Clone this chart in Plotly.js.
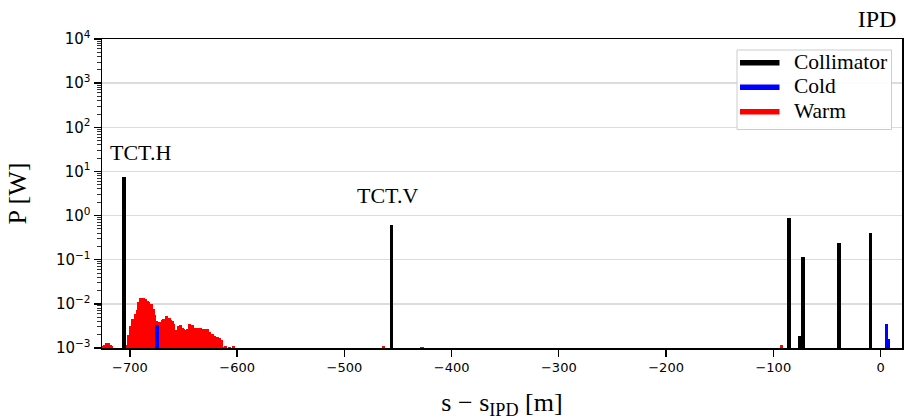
<!DOCTYPE html>
<html>
<head>
<meta charset="utf-8">
<script src="https://cdn.plot.ly/plotly-3.0.1.min.js"></script>
<style>html,body{margin:0;padding:0;background:#fff;}#chart{width:907px;height:420px;}</style>
</head>
<body>
<div id="chart"></div>
<script>
// Collimator losses (s - s_IPD in m, power in W)
const collS = [-705.6, -456.2, -85.1, -75.0, -72.6, -38.8, -9.3];
const collP = [7.5, 0.6, 0.86, 0.0019, 0.116, 0.24, 0.405];

// Cold losses
const coldS = [-674.5, 5.5, 7.3];
const coldP = [0.0033, 0.0035, 0.0016];

// Warm losses
const warmS = [-725.2, -723.5, -722.0, -720.3, -718.5, -716.8,
  -701.8, -700.9, -699.3, -697.2, -694.7, -693.1, -691.6, -690.0, -687.5, -685.4,
  -683.5, -682.3, -680.1, -678.5, -677.6, -676.7, -675.1, -673.0, -671.4, -669.8,
  -668.3, -665.8, -663.6, -662.1, -660.5, -659.0, -657.4, -655.9, -654.3, -652.8,
  -651.2, -649.7, -648.1, -646.6, -644.4, -641.9, -640.3, -638.7, -637.2, -635.7,
  -634.1, -632.5, -631.0, -629.4, -627.9, -625.4, -623.3, -621.1, -618.6, -616.1,
  -614.6, -613.0, -610.8, -607.0, -603.4, -463.3, -427.6, -92.2];
const warmP = [0.0011, 0.0012, 0.0013, 0.0013, 0.0012, 0.0011,
  0.0012, 0.0020, 0.0032, 0.0046, 0.0059, 0.0071, 0.011, 0.0135, 0.0135, 0.0126,
  0.0118, 0.011, 0.010, 0.0077, 0.0055, 0.0042, 0.0040, 0.0038, 0.0039, 0.0042,
  0.0046, 0.0052, 0.0048, 0.0042, 0.0040, 0.0035, 0.0025, 0.0025, 0.0032, 0.0033,
  0.0028, 0.0027, 0.0026, 0.0027, 0.0035, 0.0033, 0.0028, 0.0029, 0.0029, 0.0027,
  0.0028, 0.0027, 0.0027, 0.0027, 0.0027, 0.0023, 0.0021, 0.0019, 0.0018, 0.0017,
  0.0015, 0.00107, 0.0011, 0.00105, 0.0011, 0.0011, 0.00105, 0.0012];

const seriesNames = ['Collimator', 'Cold', 'Warm'];
const seriesColors = ['#000000', '#0000ff', '#ff0000'];
const xTickVals = [-700, -600, -500, -400, -300, -200, -100, 0];
const yTickExp = [-3, -2, -1, 0, 1, 2, 3, 4];
const labels = [{text: 'TCT.H', s: -690, p: 27}, {text: 'TCT.V', s: -460, p: 2.9}];

const serif = 'Liberation Serif';
const sans = 'DejaVu Sans';

// plot area in pixels (for placing the legend box)
const M = {l: 102, r: 5, t: 39, b: 72}, W = 907, H = 420;
const pw = W - M.l - M.r, ph = H - M.t - M.b;
const px = x => (x - M.l) / pw;
const py = y => (H - M.b - y) / ph;

const traces = [
  {type: 'bar', x: warmS, y: warmP, width: 3.0, name: seriesNames[2], marker: {color: seriesColors[2], line: {width: 0}}, showlegend: false, hoverinfo: 'skip'},
  {type: 'bar', x: coldS, y: coldP, width: 3.6, name: seriesNames[1], marker: {color: seriesColors[1], line: {width: 0}}, showlegend: false, hoverinfo: 'skip'},
  {type: 'bar', x: collS, y: collP, width: 3.4, name: seriesNames[0], marker: {color: seriesColors[0], line: {width: 0}}, showlegend: false, hoverinfo: 'skip'}
];

const rowY = [62.7, 87.2, 111.7];
const shapes = [{
  type: 'rect', xref: 'paper', yref: 'paper', layer: 'above',
  x0: px(737), x1: px(891.5), y0: py(129.5), y1: py(50),
  fillcolor: 'rgba(255,255,255,0.9)', line: {color: '#cccccc', width: 1}
}];
const legendTexts = [];
seriesNames.forEach((n, i) => {
  shapes.push({type: 'line', xref: 'paper', yref: 'paper', layer: 'above',
    x0: px(740), x1: px(779.5), y0: py(rowY[i]), y1: py(rowY[i]),
    line: {color: seriesColors[i], width: 5.5}});
  legendTexts.push({xref: 'paper', yref: 'paper', x: px(792), y: py(rowY[i] - 1),
    xanchor: 'left', yanchor: 'middle', text: n, showarrow: false,
    font: {family: serif, size: 21.5, color: '#000'}});
});

const layout = {
  width: W, height: H,
  margin: M,
  paper_bgcolor: '#fff', plot_bgcolor: '#fff',
  font: {family: serif, size: 20, color: '#000'},
  barmode: 'overlay', bargap: 0,
  showlegend: false,
  title: {text: 'IPD', font: {family: serif, size: 24, color: '#000'},
    x: 0.993, xanchor: 'right', xref: 'paper', y: 0.955, yanchor: 'middle', yref: 'container'},
  xaxis: {
    range: [-726, 20], tickvals: xTickVals, ticktext: xTickVals.map(v => v < 0 ? '\u2212' + Math.abs(v) : String(v)),
    ticks: 'outside', ticklen: 7, tickwidth: 1.3, tickcolor: '#000',
    showline: true, linecolor: '#000', linewidth: 1.5, mirror: true,
    showgrid: false, zeroline: false,
    tickfont: {family: sans, size: 13, color: '#000'},
    title: {text: 's \u2212 s<sub>IPD</sub> [m]', font: {family: serif, size: 26, color: '#000'}, standoff: 18}
  },
  yaxis: {
    type: 'log', range: [-3, 4],
    tickvals: yTickExp.map(e => Math.pow(10, e)),
    ticktext: yTickExp.map(e => '10<sup>' + (e < 0 ? '\u2212' + Math.abs(e) : e) + '</sup>'),
    ticks: 'outside', ticklen: 7, tickwidth: 1.3, tickcolor: '#000',
    minor: {ticks: 'outside', ticklen: 4, tickcolor: '#000', tickwidth: 0.8, showgrid: false, dtick: 'D1'},
    showline: true, linecolor: '#000', linewidth: 1.5, mirror: true,
    showgrid: true, gridcolor: '#dcdcdc', gridwidth: 1.3, zeroline: false,
    tickfont: {family: sans, size: 15, color: '#000'},
    title: {text: 'P [W]', font: {family: serif, size: 26, color: '#000'}, standoff: 22}
  },
  shapes: shapes,
  annotations: labels.map(l => ({
    x: l.s, y: Math.log10(l.p), xref: 'x', yref: 'y', text: l.text, showarrow: false,
    font: {family: serif, size: 22, color: '#000'}
  })).concat(legendTexts)
};

Plotly.newPlot('chart', traces, layout, {staticPlot: true, displayModeBar: false});
</script>
</body>
</html>
